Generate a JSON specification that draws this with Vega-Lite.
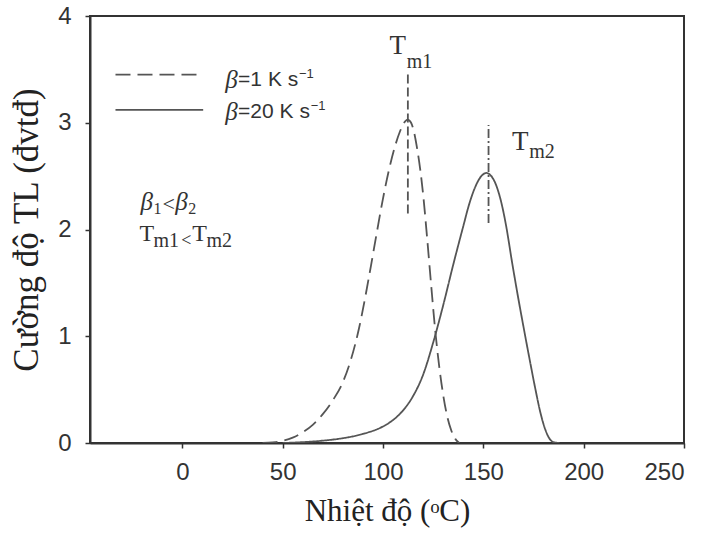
{
  "$schema": "https://vega.github.io/schema/vega-lite/v6.json",
  "width": 594,
  "height": 427,
  "autosize": {"type": "none"},
  "padding": {"left": 90, "top": 16, "right": 25, "bottom": 99},
  "background": "white",
  "config": {
    "view": {"stroke": "#333", "strokeWidth": 2},
    "axis": {
      "grid": false,
      "domainColor": "#333",
      "domainWidth": 2,
      "tickColor": "#333",
      "tickWidth": 1.5,
      "tickSize": 5,
      "labelFont": "Liberation Sans",
      "labelFontSize": 24,
      "labelColor": "#333",
      "titleFont": "Liberation Serif",
      "titleFontWeight": "normal",
      "titleColor": "#222"
    }
  },
  "datasets": {
    "curves": [
      {"T": 40, "I": 0, "s": "b1"},
      {"T": 45, "I": 0.006, "s": "b1"},
      {"T": 50, "I": 0.02, "s": "b1"},
      {"T": 55, "I": 0.05, "s": "b1"},
      {"T": 60, "I": 0.1, "s": "b1"},
      {"T": 65, "I": 0.17, "s": "b1"},
      {"T": 70, "I": 0.27, "s": "b1"},
      {"T": 75, "I": 0.4, "s": "b1"},
      {"T": 80, "I": 0.57, "s": "b1"},
      {"T": 84, "I": 0.78, "s": "b1"},
      {"T": 88, "I": 1.07, "s": "b1"},
      {"T": 91, "I": 1.35, "s": "b1"},
      {"T": 94, "I": 1.66, "s": "b1"},
      {"T": 97, "I": 1.98, "s": "b1"},
      {"T": 100, "I": 2.29, "s": "b1"},
      {"T": 103, "I": 2.56, "s": "b1"},
      {"T": 106, "I": 2.78, "s": "b1"},
      {"T": 108.5, "I": 2.92, "s": "b1"},
      {"T": 110.5, "I": 3.0, "s": "b1"},
      {"T": 112.3, "I": 3.03, "s": "b1"},
      {"T": 114, "I": 3.0, "s": "b1"},
      {"T": 115.5, "I": 2.91, "s": "b1"},
      {"T": 117, "I": 2.76, "s": "b1"},
      {"T": 118.5, "I": 2.57, "s": "b1"},
      {"T": 120, "I": 2.33, "s": "b1"},
      {"T": 122, "I": 1.92, "s": "b1"},
      {"T": 124, "I": 1.48, "s": "b1"},
      {"T": 126, "I": 1.06, "s": "b1"},
      {"T": 128, "I": 0.72, "s": "b1"},
      {"T": 130, "I": 0.45, "s": "b1"},
      {"T": 132, "I": 0.25, "s": "b1"},
      {"T": 134, "I": 0.12, "s": "b1"},
      {"T": 136, "I": 0.04, "s": "b1"},
      {"T": 138, "I": 0, "s": "b1"},
      {"T": 50, "I": 0, "s": "b20"},
      {"T": 60, "I": 0.008, "s": "b20"},
      {"T": 70, "I": 0.022, "s": "b20"},
      {"T": 80, "I": 0.045, "s": "b20"},
      {"T": 90, "I": 0.085, "s": "b20"},
      {"T": 100, "I": 0.155, "s": "b20"},
      {"T": 105, "I": 0.215, "s": "b20"},
      {"T": 110, "I": 0.305, "s": "b20"},
      {"T": 115, "I": 0.44, "s": "b20"},
      {"T": 120, "I": 0.64, "s": "b20"},
      {"T": 125, "I": 0.94, "s": "b20"},
      {"T": 130, "I": 1.29, "s": "b20"},
      {"T": 135, "I": 1.67, "s": "b20"},
      {"T": 140, "I": 2.03, "s": "b20"},
      {"T": 143, "I": 2.24, "s": "b20"},
      {"T": 146, "I": 2.4, "s": "b20"},
      {"T": 149, "I": 2.5, "s": "b20"},
      {"T": 151.5, "I": 2.53, "s": "b20"},
      {"T": 154, "I": 2.5, "s": "b20"},
      {"T": 156.5, "I": 2.41, "s": "b20"},
      {"T": 159, "I": 2.25, "s": "b20"},
      {"T": 161.5, "I": 2.02, "s": "b20"},
      {"T": 164, "I": 1.73, "s": "b20"},
      {"T": 167, "I": 1.4, "s": "b20"},
      {"T": 170, "I": 1.09, "s": "b20"},
      {"T": 173, "I": 0.79, "s": "b20"},
      {"T": 176, "I": 0.5, "s": "b20"},
      {"T": 178.5, "I": 0.28, "s": "b20"},
      {"T": 181, "I": 0.12, "s": "b20"},
      {"T": 183, "I": 0.04, "s": "b20"},
      {"T": 185, "I": 0.008, "s": "b20"},
      {"T": 188, "I": 0, "s": "b20"}
    ],
    "keys": [
      {"T": -33.3, "T2": 8.9, "I": 3.45, "s": "b1"},
      {"T": -33.3, "T2": 10.4, "I": 3.12, "s": "b20"}
    ],
    "peaks": [
      {"T": 112.4, "I": 2.15, "I2": 3.47, "s": "m1"},
      {"T": 152.6, "I": 2.06, "I2": 2.98, "s": "m2"}
    ],
    "labels": [
      {"T": 21.4, "I": 3.4, "txt": "β", "role": "it"},
      {"T": 27.8, "I": 3.4, "txt": "=1 K s", "role": "sans"},
      {"T": 58.1, "I": 3.46, "txt": "−1", "role": "sup"},
      {"T": 21.4, "I": 3.1, "txt": "β", "role": "it"},
      {"T": 27.8, "I": 3.1, "txt": "=20 K s", "role": "sans"},
      {"T": 64.0, "I": 3.16, "txt": "−1", "role": "sup"},
      {"T": -20.85, "I": 2.258, "txt": "β", "role": "it"},
      {"T": -14.4, "I": 2.19, "txt": "1", "role": "sub"},
      {"T": -9.9, "I": 2.24, "txt": "<", "role": "lt2"},
      {"T": -3.5, "I": 2.258, "txt": "β", "role": "it"},
      {"T": 3.0, "I": 2.19, "txt": "2", "role": "sub"},
      {"T": -21.35, "I": 1.958, "txt": "T", "role": "T"},
      {"T": -14.4, "I": 1.89, "txt": "m1", "role": "msub"},
      {"T": -0.5, "I": 1.89, "txt": "<", "role": "lt"},
      {"T": 5.0, "I": 1.958, "txt": "T", "role": "T"},
      {"T": 12.0, "I": 1.89, "txt": "m2", "role": "msub"},
      {"T": 103.3, "I": 3.72, "txt": "T", "role": "Tbig"},
      {"T": 111.8, "I": 3.57, "txt": "m1", "role": "msub"},
      {"T": 164.3, "I": 2.82, "txt": "T", "role": "Tbig"},
      {"T": 172.9, "I": 2.73, "txt": "m2", "role": "msub"}
    ]
  },
  "encoding": {
    "x": {
      "field": "T",
      "type": "quantitative",
      "scale": {"domain": [-46, 250], "nice": false, "zero": false},
      "axis": {
        "values": [0, 50, 100, 150, 200, 250],
        "title": "Nhiệt độ (ᵒC)",
        "titleFontSize": 31,
        "titlePadding": 12,
        "labelPadding": 12
      }
    },
    "y": {
      "field": "I",
      "type": "quantitative",
      "scale": {"domain": [0, 4], "nice": false},
      "axis": {
        "values": [0, 1, 2, 3, 4],
        "title": "Cường độ TL (đvtđ)",
        "titleFontSize": 35,
        "titlePadding": 13,
        "labelPadding": 14
      }
    }
  },
  "layer": [
    {
      "data": {"name": "curves"},
      "mark": {"type": "line", "color": "#555", "strokeWidth": 1.8, "interpolate": "monotone", "clip": true},
      "encoding": {
        "detail": {"field": "s"},
        "strokeDash": {
          "field": "s",
          "type": "nominal",
          "scale": {
            "domain": ["b1", "b20", "m1", "m2"],
            "range": [[15, 7], [1, 0], [9, 4], [9, 3, 2, 3]]
          },
          "legend": null
        }
      }
    },
    {
      "data": {"name": "keys"},
      "mark": {"type": "rule", "color": "#555", "strokeWidth": 1.8},
      "encoding": {
        "x2": {"field": "T2"},
        "strokeDash": {"field": "s", "type": "nominal", "legend": null}
      }
    },
    {
      "data": {"name": "peaks"},
      "mark": {"type": "rule", "color": "#555", "strokeWidth": 1.8},
      "encoding": {
        "y2": {"field": "I2"},
        "strokeDash": {"field": "s", "type": "nominal", "legend": null}
      }
    },
    {
      "data": {"name": "labels"},
      "transform": [{"filter": "datum.role === 'it'"}],
      "mark": {"type": "text", "align": "left", "baseline": "middle", "font": "Liberation Serif", "fontStyle": "italic", "fontSize": 25, "color": "#333"},
      "encoding": {"text": {"field": "txt"}}
    },
    {
      "data": {"name": "labels"},
      "transform": [{"filter": "datum.role === 'sans'"}],
      "mark": {"type": "text", "align": "left", "baseline": "middle", "font": "Liberation Sans", "fontSize": 21, "color": "#333"},
      "encoding": {"text": {"field": "txt"}}
    },
    {
      "data": {"name": "labels"},
      "transform": [{"filter": "datum.role === 'sup'"}],
      "mark": {"type": "text", "align": "left", "baseline": "middle", "font": "Liberation Sans", "fontSize": 13, "color": "#333"},
      "encoding": {"text": {"field": "txt"}}
    },
    {
      "data": {"name": "labels"},
      "transform": [{"filter": "datum.role === 'sub'"}],
      "mark": {"type": "text", "align": "left", "baseline": "middle", "font": "Liberation Serif", "fontSize": 16, "color": "#333"},
      "encoding": {"text": {"field": "txt"}}
    },
    {
      "data": {"name": "labels"},
      "transform": [{"filter": "datum.role === 'lt'"}],
      "mark": {"type": "text", "align": "left", "baseline": "middle", "font": "Liberation Serif", "fontSize": 18, "color": "#333"},
      "encoding": {"text": {"field": "txt"}}
    },
    {
      "data": {"name": "labels"},
      "transform": [{"filter": "datum.role === 'lt2'"}],
      "mark": {"type": "text", "align": "left", "baseline": "middle", "font": "Liberation Serif", "fontSize": 22, "color": "#333"},
      "encoding": {"text": {"field": "txt"}}
    },
    {
      "data": {"name": "labels"},
      "transform": [{"filter": "datum.role === 'T'"}],
      "mark": {"type": "text", "align": "left", "baseline": "middle", "font": "Liberation Serif", "fontSize": 24, "color": "#333"},
      "encoding": {"text": {"field": "txt"}}
    },
    {
      "data": {"name": "labels"},
      "transform": [{"filter": "datum.role === 'Tbig'"}],
      "mark": {"type": "text", "align": "left", "baseline": "middle", "font": "Liberation Serif", "fontSize": 27, "color": "#333"},
      "encoding": {"text": {"field": "txt"}}
    },
    {
      "data": {"name": "labels"},
      "transform": [{"filter": "datum.role === 'msub'"}],
      "mark": {"type": "text", "align": "left", "baseline": "middle", "font": "Liberation Serif", "fontSize": 20, "color": "#333"},
      "encoding": {"text": {"field": "txt"}}
    }
  ]
}
